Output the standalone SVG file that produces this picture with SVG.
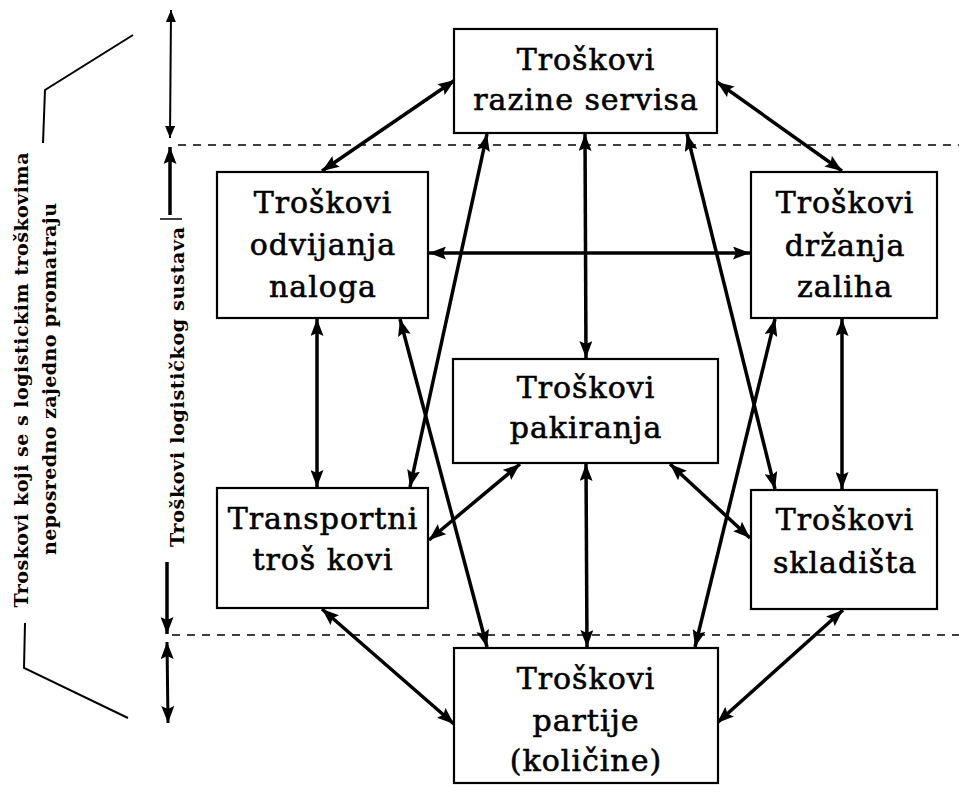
<svg xmlns="http://www.w3.org/2000/svg" width="959" height="793" viewBox="0 0 959 793">
<style>
.box{fill:#fff;stroke:#000;stroke-width:2.2}
.bt{font-family:"DejaVu Serif","Liberation Serif",serif;font-size:30px;letter-spacing:1px;text-anchor:middle;fill:#000;stroke:#000;stroke-width:0.6}
.conn{stroke:#000;stroke-width:3.5;fill:none;marker-start:url(#ah);marker-end:url(#ah)}
.thin{stroke:#000;stroke-width:2;fill:none}
.dash{stroke:#000;stroke-width:1.6;stroke-dasharray:8 7;fill:none}
.vt{font-family:"DejaVu Serif","Liberation Serif",serif;font-size:19px;font-weight:bold;fill:#000;text-anchor:middle}
</style>
<defs>
<marker id="ah" viewBox="0 0 17 13" refX="17" refY="6.5" markerWidth="17" markerHeight="13" markerUnits="userSpaceOnUse" orient="auto-start-reverse">
<path d="M0,0 L17,6.5 L0,13 L3,6.5 z" fill="#000"/>
</marker>
<marker id="ahs" viewBox="0 0 12 10" refX="12" refY="5" markerWidth="12" markerHeight="10" markerUnits="userSpaceOnUse" orient="auto-start-reverse">
<path d="M0,0 L12,5 L0,10 z" fill="#000"/>
</marker>
</defs>
<rect width="959" height="793" fill="#fff"/>

<g id="guides">
<line class="dash" x1="178" y1="145" x2="959" y2="145"/>
<line class="dash" x1="172" y1="635" x2="959" y2="635"/>
<polyline class="thin" points="133,35 45,90 43,143"/>
<polyline class="thin" points="25,623 24,668 128,718"/>
<line x1="171" y1="10" x2="170" y2="138" stroke="#000" stroke-width="2" marker-start="url(#ahs)" marker-end="url(#ahs)"/>
<line x1="170" y1="215" x2="170" y2="147" stroke="#000" stroke-width="3.5" marker-end="url(#ah)"/>
<line x1="160" y1="219" x2="182" y2="219" stroke="#000" stroke-width="1.5"/>
<line x1="167" y1="562" x2="167" y2="634" stroke="#000" stroke-width="3.5" marker-end="url(#ah)"/>
<line x1="167" y1="642" x2="168" y2="723" stroke="#000" stroke-width="3" marker-start="url(#ah)" marker-end="url(#ah)"/>
<text class="vt" transform="translate(28,380) rotate(-90)" textLength="455" lengthAdjust="spacing">Troskovi koji se s logistickim troškovima</text>
<text class="vt" transform="translate(56,379) rotate(-90)" textLength="352" lengthAdjust="spacing">neposredno zajedno promatraju</text>
<text class="vt" transform="translate(184,387) rotate(-90)" textLength="320" lengthAdjust="spacing">Troškovi logističkog sustava</text>
</g>

<g id="connectors">
<line class="conn" x1="455" y1="80" x2="322" y2="171"/>
<line class="conn" x1="717" y1="82" x2="842" y2="171"/>
<line class="conn" x1="487" y1="134" x2="410" y2="487"/>
<line class="conn" x1="585" y1="134" x2="586" y2="358"/>
<line class="conn" x1="687" y1="134" x2="775" y2="489"/>
<line class="conn" x1="429" y1="253" x2="750" y2="253"/>
<line class="conn" x1="317" y1="319" x2="317" y2="487"/>
<line class="conn" x1="400" y1="319" x2="487" y2="647"/>
<line class="conn" x1="775" y1="319" x2="695" y2="647"/>
<line class="conn" x1="842" y1="319" x2="842" y2="489"/>
<line class="conn" x1="429" y1="540" x2="520" y2="464"/>
<line class="conn" x1="586" y1="464" x2="587" y2="647"/>
<line class="conn" x1="670" y1="464" x2="750" y2="538"/>
<line class="conn" x1="322" y1="609" x2="454" y2="724"/>
<line class="conn" x1="843" y1="610" x2="717" y2="723"/>
</g>

<g id="n-servis">
<rect class="box" x="454" y="29" width="263" height="104"/>
<text class="bt" x="586" y="70">Troškovi</text>
<text class="bt" x="586" y="110">razine servisa</text>
</g>
<g id="n-nalog">
<rect class="box" x="217" y="172" width="211" height="146"/>
<text class="bt" x="323" y="213">Troškovi</text>
<text class="bt" x="323" y="255">odvijanja</text>
<text class="bt" x="323" y="297">naloga</text>
</g>
<g id="n-zalihe">
<rect class="box" x="751" y="172" width="186" height="146"/>
<text class="bt" x="845" y="213">Troškovi</text>
<text class="bt" x="845" y="256">držanja</text>
<text class="bt" x="845" y="297">zaliha</text>
</g>
<g id="n-pakiranje">
<rect class="box" x="453" y="359" width="265" height="104"/>
<text class="bt" x="586" y="398">Troškovi</text>
<text class="bt" x="586" y="438">pakiranja</text>
</g>
<g id="n-transport">
<rect class="box" x="217" y="488" width="211" height="120"/>
<text class="bt" x="323" y="529">Transportni</text>
<text class="bt" x="323" y="570">troš kovi</text>
</g>
<g id="n-skladiste">
<rect class="box" x="751" y="490" width="186" height="119"/>
<text class="bt" x="845" y="530">Troškovi</text>
<text class="bt" x="845" y="573">skladišta</text>
</g>
<g id="n-partija">
<rect class="box" x="454" y="648" width="264" height="135"/>
<text class="bt" x="586" y="689">Troškovi</text>
<text class="bt" x="586" y="731">partije</text>
<text class="bt" x="586" y="771">(količine)</text>
</g>
</svg>
